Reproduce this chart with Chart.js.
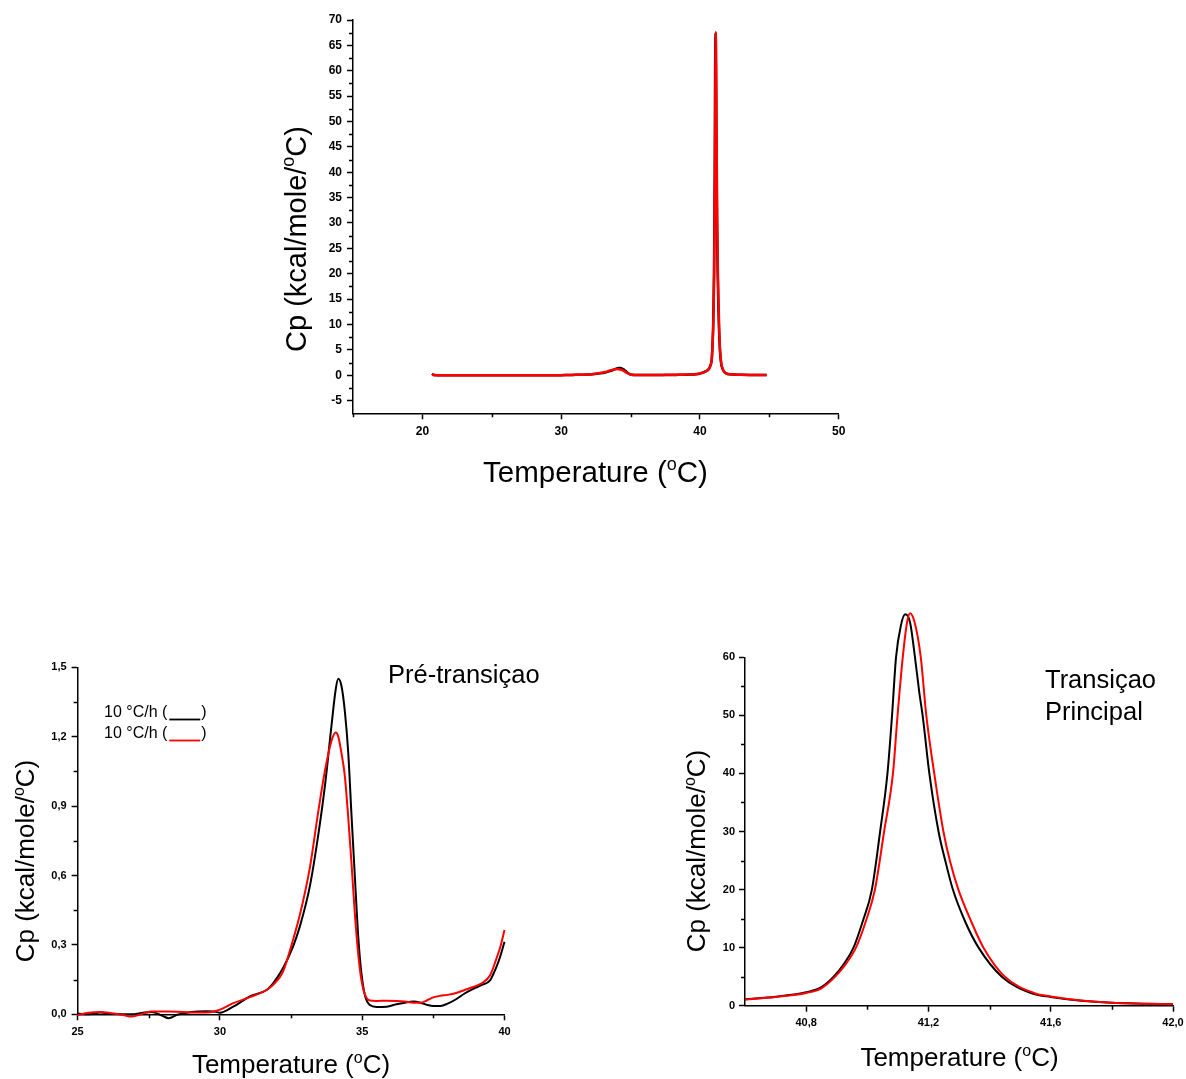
<!DOCTYPE html>
<html>
<head>
<meta charset="utf-8">
<script src="https://cdn.jsdelivr.net/npm/chart.js@4.4.1/dist/chart.umd.min.js"></script>
<style>
  html, body { margin: 0; padding: 0; background: #fff; }
  body { width: 1186px; height: 1079px; position: relative; overflow: hidden; }
  canvas { position: absolute; }
</style>
</head>
<body>
<canvas id="full" width="620" height="500" style="left:250px;top:0px"></canvas>
<canvas id="pre" width="560" height="449" style="left:0px;top:630px"></canvas>
<canvas id="main" width="576" height="489" style="left:610px;top:590px"></canvas>
<script>
'use strict';

// pre-transition scan, 25-40 °C
const preTemp = [25.0, 25.4, 25.8, 26.2, 26.6, 26.9, 27.3, 27.6, 28.0, 28.2,
  28.5, 29.0, 29.5, 29.8, 30.0, 30.47, 31.05, 31.64, 31.87, 32.22,
  32.57, 32.81, 33.16, 33.45, 33.69, 33.92, 34.07, 34.16, 34.27, 34.39,
  34.51, 34.62, 34.74, 34.86, 34.97, 35.1, 35.27, 35.5, 35.86, 36.2,
  36.5, 36.8, 37.05, 37.3, 37.5, 37.75, 38.0, 38.3, 38.6, 38.9,
  39.2, 39.5, 39.7, 39.85, 40.0];
const preCpBlack = [0.003, 0.0, 0.008, 0.002, 0.0, 0.0, 0.007, 0.01, -0.008, -0.017,
  -0.002, 0.01, 0.013, 0.012, 0.007, 0.033, 0.077, 0.105, 0.134, 0.2,
  0.293, 0.38, 0.553, 0.77, 0.987, 1.247, 1.405, 1.45, 1.42, 1.31,
  1.13, 0.87, 0.6, 0.337, 0.18, 0.08, 0.04, 0.032, 0.033, 0.043,
  0.05, 0.055, 0.05, 0.04, 0.036, 0.036, 0.046, 0.065, 0.09, 0.11,
  0.127, 0.148, 0.2, 0.25, 0.314];
const preCpRed = [-0.003, 0.007, 0.01, 0.004, -0.003, -0.01, 0.003, 0.012, 0.012, 0.012,
  0.011, 0.008, 0.008, 0.012, 0.02, 0.048, 0.074, 0.105, 0.127, 0.185,
  0.322, 0.43, 0.633, 0.871, 1.052, 1.182, 1.218, 1.2, 1.13, 1.03,
  0.85, 0.66, 0.438, 0.26, 0.15, 0.084, 0.06, 0.058, 0.059, 0.058,
  0.055, 0.05, 0.05, 0.062, 0.073, 0.08, 0.084, 0.092, 0.105, 0.118,
  0.134, 0.17, 0.235, 0.29, 0.364];

// main transition, 40.6-42.0 °C
const mainTempBlack = [40.6, 40.7, 40.8, 40.85, 40.89, 40.925, 40.955, 40.985, 41.015, 41.042, 41.066, 41.081,
  41.094, 41.11, 41.124, 41.14, 41.156, 41.17, 41.181, 41.203, 41.233, 41.255, 41.28, 41.32, 41.364, 41.44,
  41.54, 41.6, 41.7, 41.8, 41.9, 42.0];
const mainCpBlack = [1.1, 1.55, 2.3, 3.2, 5.0, 7.3, 10.0, 14.5, 20.0, 30.0, 40.0, 50.0,
  60.0, 65.5, 67.4, 66.0, 60.0, 54.0, 50.0, 40.0, 30.0, 25.0, 20.0, 14.5, 10.0, 5.0,
  2.1, 1.5, 0.85, 0.5, 0.35, 0.25];
const mainTempRed = [40.6, 40.7, 40.8, 40.85, 40.895, 40.93, 40.963, 40.995, 41.025, 41.055, 41.084, 41.099,
  41.116, 41.13, 41.14, 41.155, 41.175, 41.193, 41.219, 41.249, 41.27, 41.298, 41.34, 41.38, 41.45, 41.55,
  41.6, 41.7, 41.8, 41.9, 42.0];
const mainCpRed = [1.05, 1.5, 2.2, 3.0, 5.0, 7.2, 10.0, 14.5, 20.0, 30.0, 40.0, 50.0,
  60.0, 66.0, 67.6, 66.0, 60.0, 50.0, 40.0, 30.0, 25.0, 20.0, 14.5, 10.0, 5.0, 2.1,
  1.6, 0.9, 0.5, 0.35, 0.25];

// remaining stretches of the full scan
const leadTemp = [20.7, 20.8, 21.5, 22.5, 23.5, 24.5];
const leadCpBlack = [0.3, 0.05, 0.0, 0.02, 0.0, 0.0];
const leadCpRed = [0.3, 0.05, 0.0, 0.0, 0.0, 0.0];
const bridgeTemp = [40.2, 40.4];
const bridgeCp = [0.5, 0.75];
const tailTemp = [42.5, 43.0, 44.0, 44.8];
const tailCp = [0.15, 0.1, 0.05, 0.05];

// ticks
const fullXTicks = [20, 30, 40, 50];
const fullXMinor = [15, 25, 35, 45];
const fullYTicks = [-5, 0, 5, 10, 15, 20, 25, 30, 35, 40, 45, 50, 55, 60, 65, 70];
const fullYMinor = [-2.5, 2.5, 7.5, 12.5, 17.5, 22.5, 27.5, 32.5, 37.5, 42.5, 47.5, 52.5, 57.5, 62.5, 67.5];
const preXTicks = [25, 30, 35, 40];
const preXMinor = [27.5, 32.5, 37.5];
const preYTicks = [0, 0.3, 0.6, 0.9, 1.2, 1.5];
const preYMinor = [0.15, 0.45, 0.75, 1.05, 1.35];
const mainXTicks = [40.8, 41.2, 41.6, 42.0];
const mainXMinor = [41.0, 41.4, 41.8];
const mainYTicks = [0, 10, 20, 30, 40, 50, 60];
const mainYMinor = [5, 15, 25, 35, 45, 55];

const FONT = '"Liberation Sans", Arial, Helvetica, sans-serif';
const RED = '#ff0000';
const BLACK = '#000000';

function points(t, cp) {
  return t.map((x, i) => ({ x: x, y: cp[i] }));
}

function fmt(v, decimals) {
  return v.toFixed(decimals).replace('.', ',');
}

// fixes the axis box size so the plot area lands where we want it
function fixSize(size) {
  return function (scale) {
    if (scale.isHorizontal()) scale.height = size;
    else scale.width = size;
    scale.paddingLeft = scale.paddingRight = scale.paddingTop = scale.paddingBottom = 0;
  };
}

function axis(min, max, ticks, decimals, size, fontSize, pad) {
  return {
    type: 'linear',
    min: min,
    max: max,
    afterBuildTicks: s => { s.ticks = ticks.map(v => ({ value: v })); },
    afterFit: fixSize(size),
    ticks: {
      autoSkip: false, maxRotation: 0, minRotation: 0, color: '#000', padding: pad,
      font: { family: FONT, size: fontSize, weight: 'bold' },
      callback: v => fmt(v, decimals)
    },
    grid: { drawOnChartArea: false, drawTicks: true, tickLength: 6, tickColor: '#000', tickWidth: 1.5 },
    border: { display: true, color: '#000', width: 1.5 }
  };
}

// text with a raised small "o"
function richText(ctx, parts, size, x, y, angle) {
  const base = size + 'px ' + FONT;
  const small = Math.round(size * 0.62) + 'px ' + FONT;
  let w = 0;
  parts.forEach(p => { ctx.font = p[1] ? small : base; w += ctx.measureText(p[0]).width; });
  ctx.save();
  ctx.translate(x, y);
  ctx.rotate(angle);
  ctx.fillStyle = '#000';
  ctx.textAlign = 'left';
  ctx.textBaseline = 'alphabetic';
  let cx = -w / 2;
  parts.forEach(p => {
    ctx.font = p[1] ? small : base;
    ctx.fillText(p[0], cx, p[1] ? -size * 0.4 : 0);
    cx += ctx.measureText(p[0]).width;
  });
  ctx.restore();
}

const X_TITLE = [['Temperature (', 0], ['o', 1], ['C)', 0]];
const Y_TITLE = [['Cp (kcal/mole/', 0], ['o', 1], ['C)', 0]];

// minor ticks, axis titles and notes; positions given in page pixels
function decor(o) {
  return {
    id: 'decor',
    afterDraw(chart) {
      const ctx = chart.ctx;
      const xs = chart.scales.x, ys = chart.scales.y;
      ctx.save();
      ctx.strokeStyle = '#000';
      ctx.lineWidth = 1.5;
      ctx.beginPath();
      o.xMinor.forEach(v => {
        const px = Math.round(xs.getPixelForValue(v)) + 0.5;
        ctx.moveTo(px, xs.top);
        ctx.lineTo(px, xs.top + 4);
      });
      o.yMinor.forEach(v => {
        const py = Math.round(ys.getPixelForValue(v)) + 0.5;
        ctx.moveTo(ys.right, py);
        ctx.lineTo(ys.right - 4, py);
      });
      ctx.stroke();
      ctx.translate(-o.left, -o.top);
      richText(ctx, X_TITLE, o.xSize, o.xTitle[0], o.xTitle[1], 0);
      richText(ctx, Y_TITLE, o.ySize, o.yTitle[0], o.yTitle[1], -Math.PI / 2);
      ctx.fillStyle = '#000';
      ctx.textAlign = 'left';
      ctx.textBaseline = 'alphabetic';
      (o.notes || []).forEach(n => {
        ctx.font = n[3] + 'px ' + FONT;
        ctx.fillText(n[0], n[1], n[2]);
      });
      (o.keys || []).forEach(k => {
        ctx.font = '16px ' + FONT;
        ctx.fillText(k.text + ' (', k.x, k.y);
        const x0 = k.x + ctx.measureText(k.text + ' (').width;
        ctx.strokeStyle = k.color;
        ctx.lineWidth = 1.8;
        ctx.beginPath();
        ctx.moveTo(x0 + 2, k.y + 2.5);
        ctx.lineTo(x0 + 33, k.y + 2.5);
        ctx.stroke();
        ctx.fillText(')', x0 + 34, k.y);
      });
      ctx.restore();
    }
  };
}

function line(label, data, color, width, order) {
  return {
    label: label, data: data, borderColor: color, backgroundColor: color, borderWidth: width,
    pointRadius: 0, fill: false, cubicInterpolationMode: 'monotone', clip: false, order: order
  };
}

function build(id, datasets, xAxis, yAxis, padding, deco) {
  return new Chart(document.getElementById(id), {
    type: 'line',
    data: { datasets: datasets },
    options: {
      responsive: false,
      animation: false,
      devicePixelRatio: 1,
      parsing: false,
      layout: { padding: padding },
      plugins: { legend: { display: false }, tooltip: { enabled: false } },
      scales: { x: xAxis, y: yAxis }
    },
    plugins: [deco]
  });
}

// full scan
const fullTempBlack = leadTemp.concat(preTemp, bridgeTemp, mainTempBlack, tailTemp);
const fullCpBlack = leadCpBlack.concat(preCpBlack, bridgeCp, mainCpBlack, tailCp);
const fullTempRed = leadTemp.concat(preTemp, bridgeTemp, mainTempRed, tailTemp);
const fullCpRed = leadCpRed.concat(preCpRed, bridgeCp, mainCpRed, tailCp);

build('full',
  [line('10 °C/h', points(fullTempBlack, fullCpBlack), BLACK, 2.5, 1),
   line('10 °C/h', points(fullTempRed, fullCpRed), RED, 2.5, 0)],
  axis(15, 50, fullXTicks, 0, 86.7, 12, 5),
  axis(-7.5, 70, fullYTicks, 0, 103, 12, 5),
  { left: 0, top: 20, right: 31.3, bottom: 0 },
  decor({ left: 250, top: 0, xMinor: fullXMinor, yMinor: fullYMinor, xSize: 29.5, ySize: 29,
          xTitle: [595.5, 482], yTitle: [306, 239] }));

build('pre',
  [line('10 °C/h', points(preTemp, preCpBlack), BLACK, 2, 1),
   line('10 °C/h', points(preTemp, preCpRed), RED, 2, 0)],
  axis(25, 40, preXTicks, 0, 64.7, 11, 5),
  axis(0, 1.5, preYTicks, 1, 77.6, 11, 5),
  { left: 0, top: 37.3, right: 55.5, bottom: 0 },
  decor({ left: 0, top: 630, xMinor: preXMinor, yMinor: preYMinor, xSize: 26, ySize: 26,
          xTitle: [291, 1073], yTitle: [34, 861],
          notes: [['Pré-transiçao', 388, 683, 25.5]],
          keys: [{ text: '10 °C/h', x: 104, y: 717, color: BLACK },
                 { text: '10 °C/h', x: 104, y: 738, color: RED }] }));

build('main',
  [line('10 °C/h', points(mainTempBlack, mainCpBlack), BLACK, 2, 1),
   line('10 °C/h', points(mainTempRed, mainCpRed), RED, 2, 0)],
  axis(40.6, 42.0, mainXTicks, 1, 73.3, 11, 5),
  axis(0, 60, mainYTicks, 0, 135, 11, 4),
  { left: 0, top: 67.3, right: 13, bottom: 0 },
  decor({ left: 610, top: 590, xMinor: mainXMinor, yMinor: mainYMinor, xSize: 26, ySize: 26,
          xTitle: [959.5, 1066], yTitle: [705, 851],
          notes: [['Transiçao', 1045, 688, 25.5], ['Principal', 1045, 720, 25.5]] }));
</script>
</body>
</html>
